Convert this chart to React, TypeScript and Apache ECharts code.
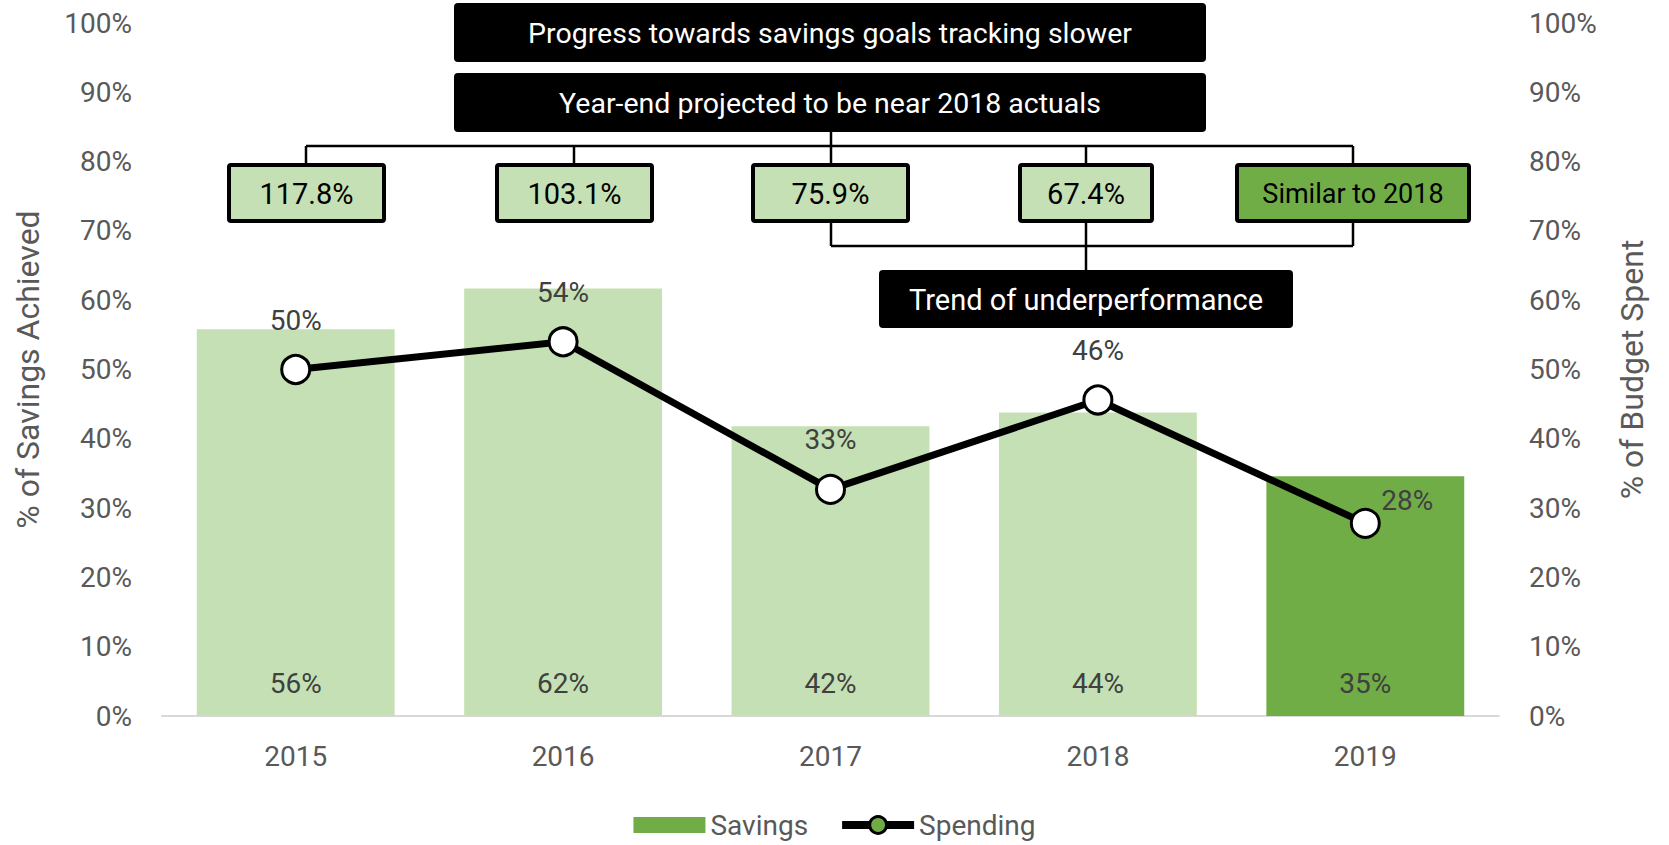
import React, { useEffect, useRef } from "react";
import * as echarts from "echarts";

// ---- data ----
const categories = ["2015", "2016", "2017", "2018", "2019"];
const savings = [0.558, 0.617, 0.418, 0.438, 0.346];
const spending = [0.5, 0.54, 0.327, 0.456, 0.278];
const projectedIndex = 4;
const headlineNotes = [
  "Progress towards savings goals tracking slower",
  "Year-end projected to be near 2018 actuals",
];
const ytdLabels = ["117.8%", "103.1%", "75.9%", "67.4%", "Similar to 2018"];
const trendNote = "Trend of underperformance";
const seriesNames = ["Savings", "Spending"];
const axisTitles = ["% of Savings Achieved", "% of Budget Spent"];

const LIGHT = "#C5E0B4";
const DARK = "#70AD47";
const FONT = "Roboto";

function pct(v: number) {
  return Math.round(v * 100) + "%";
}

function box(
  x: number,
  y: number,
  w: number,
  h: number,
  fill: string,
  text: string,
  textColor: string,
  border: number,
  radius: number,
  fontSize: number
) {
  const els: any[] = [
    {
      type: "rect",
      z: 20,
      shape: { x, y, width: w, height: h, r: radius },
      style: { fill, stroke: "#000", lineWidth: border },
    },
    {
      type: "text",
      z: 21,
      x: x + w / 2,
      y: y + h / 2 + 1,
      style: {
        text,
        fill: textColor,
        fontSize,
        fontFamily: FONT,
        align: "center",
        verticalAlign: "middle",
      },
    },
  ];
  return els;
}

function seg(x1: number, y1: number, x2: number, y2: number) {
  return {
    type: "line",
    z: 15,
    shape: { x1, y1, x2, y2 },
    style: { stroke: "#000", lineWidth: 2.5 },
  };
}

export default function App() {
  const ref = useRef<HTMLDivElement>(null);

  useEffect(() => {
    if (!ref.current) return;
    const chart = echarts.init(ref.current, undefined, { renderer: "svg" });

    const ytdBoxes = [
      { x: 229, w: 155, fill: LIGHT },
      { x: 497, w: 155, fill: LIGHT },
      { x: 753, w: 155, fill: LIGHT },
      { x: 1020, w: 132, fill: LIGHT },
      { x: 1237, w: 232, fill: DARK },
    ];

    const graphics: any[] = [
      // connectors
      seg(306, 146, 1353, 146),
      seg(831, 132, 831, 165),
      seg(306, 146, 306, 165),
      seg(574, 146, 574, 165),
      seg(1086, 146, 1086, 165),
      seg(1353, 146, 1353, 165),
      seg(831, 221, 831, 246),
      seg(831, 246, 1353, 246),
      seg(1353, 221, 1353, 246),
      seg(1086, 221, 1086, 270),
      ...box(454, 3, 752, 59, "#000", headlineNotes[0], "#fff", 0, 4, 28.5),
      ...box(454, 73, 752, 59, "#000", headlineNotes[1], "#fff", 0, 4, 28.5),
      ...box(879, 270, 414, 58, "#000", trendNote, "#fff", 0, 4, 29),
      ...ytdBoxes.flatMap((b, i) =>
        box(b.x, 165, b.w, 56, b.fill, ytdLabels[i], "#000", 4, 2, i === 4 ? 27 : 29)
      ),
    ];

    chart.setOption({
      animation: false,
      textStyle: { fontFamily: FONT },
      grid: { left: 162, right: 170, top: 23, bottom: 129, containLabel: false },
      legend: {
        left: "center",
        top: 806,
        itemWidth: 72,
        itemHeight: 21,
        itemGap: 30,
        symbolKeepAspect: true,
        textStyle: { fontSize: 28, color: "#595959", fontFamily: FONT },
        data: [
          {
            name: seriesNames[0],
            icon: "path://M0,0h72v16h-72z",
            itemStyle: { color: DARK },
          },
          {
            name: seriesNames[1],
            itemStyle: { color: DARK, borderColor: "#000", borderWidth: 3 },
            lineStyle: { color: "#000", width: 8 },
          },
        ],
      },
      xAxis: {
        type: "category",
        data: categories,
        axisLine: { show: true, lineStyle: { color: "#D9D9D9", width: 2 } },
        axisTick: { show: false },
        axisLabel: { fontSize: 28, color: "#595959", margin: 26 },
      },
      yAxis: [
        {
          type: "value",
          min: 0,
          max: 1,
          interval: 0.1,
          position: "left",
          name: axisTitles[0],
          nameLocation: "middle",
          nameRotate: 90,
          nameGap: 118,
          nameTextStyle: { fontSize: 32, color: "#595959" },
          axisLine: { show: false },
          axisTick: { show: false },
          splitLine: { show: false },
          axisLabel: { fontSize: 28, color: "#595959", margin: 30, formatter: pct },
        },
        {
          type: "value",
          min: 0,
          max: 1,
          interval: 0.1,
          position: "right",
          name: axisTitles[1],
          nameLocation: "middle",
          nameRotate: 90,
          nameGap: 117,
          nameTextStyle: { fontSize: 32, color: "#595959" },
          axisLine: { show: false },
          axisTick: { show: false },
          splitLine: { show: false },
          axisLabel: { fontSize: 28, color: "#595959", margin: 30, formatter: pct },
        },
      ],
      series: [
        {
          name: seriesNames[0],
          type: "bar",
          yAxisIndex: 0,
          barCategoryGap: "26%",
          itemStyle: { color: DARK },
          data: savings.map((v, i) => ({
            value: v,
            itemStyle: { color: i === projectedIndex ? DARK : LIGHT },
          })),
          label: {
            show: true,
            position: "insideBottom",
            distance: 19,
            fontSize: 28,
            color: "#404040",
            formatter: (p: any) => pct(p.value),
          },
        },
        {
          name: seriesNames[1],
          type: "line",
          yAxisIndex: 1,
          z: 5,
          symbol: "circle",
          symbolSize: 28,
          lineStyle: { color: "#000", width: 7 },
          itemStyle: { color: "#fff", borderColor: "#000", borderWidth: 3 },
          data: spending.map((v, i) =>
            i === spending.length - 1
              ? { value: v, label: { offset: [42, 27] } }
              : { value: v }
          ),
          label: {
            show: true,
            position: "top",
            distance: 20,
            fontSize: 28,
            color: "#404040",
            formatter: (p: any) => pct(p.value),
          },
        },
      ],
      graphic: graphics,
    });

    return () => chart.dispose();
  }, []);

  return (
    <div
      ref={ref}
      style={{ position: "fixed", left: 0, top: 0, width: 1669, height: 845, background: "#fff" }}
    />
  );
}
